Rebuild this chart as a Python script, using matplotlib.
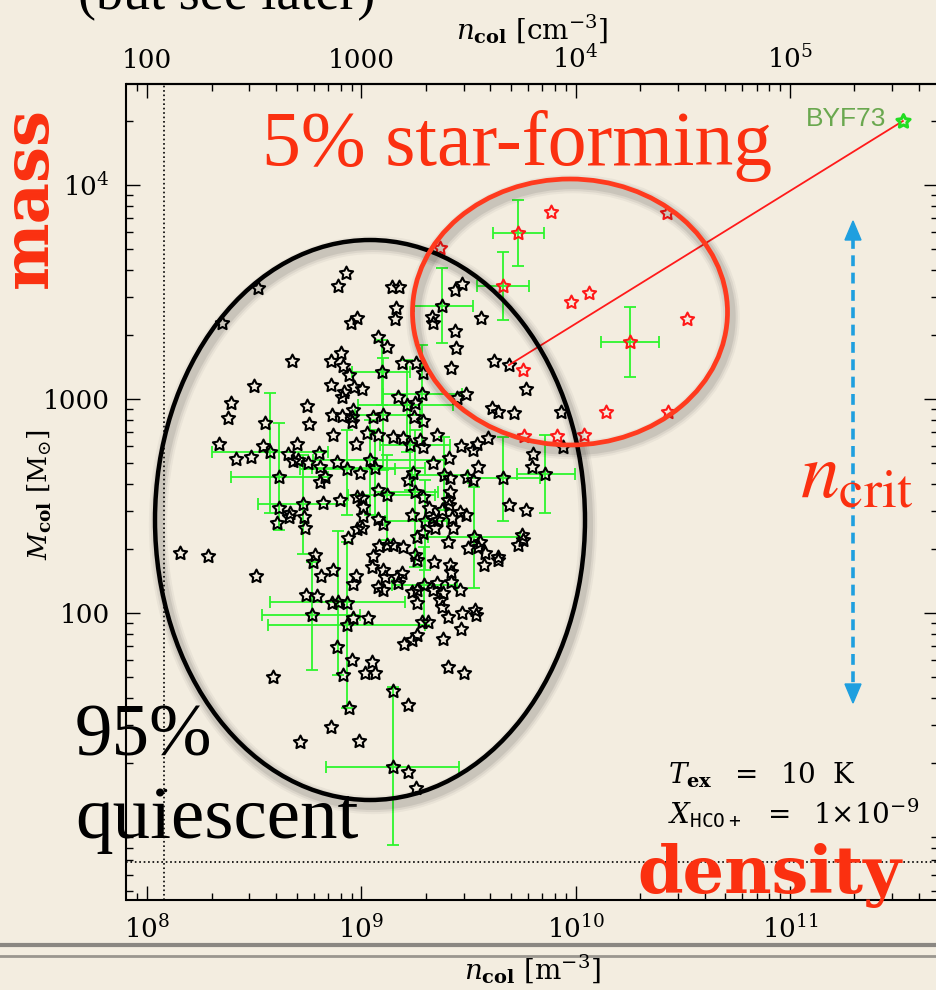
import numpy as np
import matplotlib
matplotlib.use("Agg")
import matplotlib.pyplot as plt
from matplotlib.patches import Ellipse, Polygon
from matplotlib.lines import Line2D
from matplotlib.path import Path
from matplotlib.ticker import NullFormatter

# quiescent clumps (black stars): log10 n_col [m^-3], log10 M_col [Msun]
log_n_q = [8.927, 8.893, 8.519, 9.143, 8.351, 8.978, 8.952, 9.076, 9.121, 8.675,
           8.904, 8.857, 8.916, 8.941, 9.095, 8.499, 8.860, 8.966, 9.005, 8.921,
           8.908, 8.392, 8.748, 8.963, 8.379, 8.862, 8.911, 8.958, 9.053, 9.103,
           8.549, 8.756, 8.955, 9.177, 9.437, 9.468, 9.375, 9.162, 9.328, 9.336,
           9.157, 9.557, 9.437, 9.442, 9.619, 9.689, 9.418, 9.188, 9.255, 9.286,
           9.767, 9.487, 9.445, 9.282, 9.173, 9.212, 9.250, 9.608, 9.639, 9.714,
           9.930, 9.246, 9.286, 8.336, 8.543, 8.574, 8.698, 8.414, 8.484, 8.659,
           8.683, 8.706, 8.753, 8.804, 8.869, 8.974, 9.025, 9.079, 8.807, 8.807,
           8.831, 8.885, 8.932, 8.994, 9.041, 9.064, 8.617, 8.978, 9.002, 9.009,
           9.009, 9.076, 9.118, 8.823, 8.901, 8.729, 8.617, 8.667, 8.661, 8.734,
           8.737, 8.608, 9.079, 9.103, 8.978, 9.005, 8.939, 9.084, 9.118, 8.286,
           8.784, 9.056, 8.776, 8.869, 8.812, 8.974, 8.963, 9.048, 9.103, 9.111,
           8.507, 9.079, 9.103, 8.742, 8.792, 8.865, 8.893, 8.932, 8.768, 8.963,
           9.033, 9.149, 9.196, 9.227, 9.274, 9.289, 9.355, 9.465, 9.523, 9.541,
           9.590, 9.336, 9.411, 9.546, 9.802, 9.795, 9.942, 9.662, 9.857, 9.523,
           9.492, 9.387, 9.414, 9.243, 9.219, 9.414, 9.406, 9.411, 9.289, 9.317,
           9.250, 9.460, 9.488, 9.378, 9.690, 9.767, 9.336, 9.359, 9.235, 9.297,
           9.422, 9.429, 9.344, 9.258, 9.289, 9.406, 9.526, 9.554, 9.546, 9.499,
           9.577, 9.748, 9.753, 9.732, 9.639, 9.639, 9.196, 9.149, 9.250, 9.258,
           9.341, 9.414, 9.417, 9.574, 9.188, 9.165, 9.173, 9.294, 9.352, 9.336,
           9.418, 9.460, 9.235, 9.258, 9.383, 9.367, 9.375, 9.258, 9.471, 9.530,
           9.535, 9.406, 8.932, 8.885, 8.955, 9.048, 9.017, 9.064, 8.916, 8.587,
           8.944, 8.859, 8.714, 8.989, 9.146, 9.282, 9.313, 9.465, 9.199, 9.235,
           9.258, 9.383, 9.403, 9.479, 9.149, 9.219, 9.219, 9.255, 8.154]
log_m_q = [3.587, 3.528, 3.520, 3.523, 3.354, 3.380, 3.354, 3.291, 3.244, 3.179,
           3.214, 3.179, 3.156, 3.114, 3.125, 3.062, 3.067, 3.058, 3.047, 3.034,
           3.011, 2.980, 2.969, 2.949, 2.910, 2.925, 2.922, 2.917, 2.917, 2.925,
           2.889, 2.883, 2.894, 3.525, 3.509, 3.536, 3.436, 3.424, 3.382, 3.354,
           3.374, 3.377, 3.319, 3.237, 3.179, 3.159, 3.146, 3.167, 3.170, 3.120,
           3.047, 3.023, 3.006, 3.023, 3.011, 2.972, 2.980, 2.957, 2.941, 2.933,
           2.941, 2.917, 2.897, 2.790, 2.782, 2.751, 2.788, 2.720, 2.728, 2.743,
           2.712, 2.715, 2.700, 2.749, 2.832, 2.790, 2.840, 2.832, 2.684, 2.611,
           2.637, 2.704, 2.673, 2.653, 2.715, 2.676, 2.637, 2.543, 2.536, 2.497,
           2.455, 2.575, 2.551, 2.515, 2.528, 2.509, 2.489, 2.469, 2.447, 2.447,
           2.396, 2.419, 2.438, 2.416, 2.391, 2.396, 2.352, 2.314, 2.318, 2.266,
           2.271, 2.266, 2.240, 2.201, 2.174, 2.174, 2.136, 2.216, 2.201, 2.170,
           2.174, 2.123, 2.107, 2.084, 2.081, 2.045, 2.050, 2.045, 1.991, 1.975,
           1.975, 2.824, 2.816, 2.785, 2.808, 2.777, 2.832, 2.782, 2.762, 2.788,
           2.816, 2.700, 2.723, 2.684, 2.743, 2.684, 2.777, 2.632, 2.648, 2.622,
           2.637, 2.645, 2.629, 2.653, 2.622, 2.567, 2.528, 2.505, 2.543, 2.489,
           2.567, 2.473, 2.458, 2.481, 2.505, 2.481, 2.443, 2.435, 2.458, 2.431,
           2.443, 2.396, 2.396, 2.357, 2.372, 2.330, 2.354, 2.333, 2.307, 2.305,
           2.279, 2.364, 2.341, 2.318, 2.262, 2.248, 2.307, 2.318, 2.271, 2.248,
           2.240, 2.224, 2.193, 2.224, 2.186, 2.170, 2.139, 2.131, 2.139, 2.107,
           2.146, 2.107, 2.100, 2.107, 2.092, 2.061, 2.029, 2.045, 1.999, 2.014,
           1.991, 1.983, 1.944, 1.843, 1.780, 1.772, 1.718, 1.718, 1.710, 1.702,
           1.557, 1.466, 1.399, 1.402, 1.280, 1.959, 1.959, 1.925, 1.855, 1.874,
           1.897, 1.877, 1.749, 1.718, 1.637, 1.570, 1.258, 1.181, 2.280]

# star-forming clumps (red stars)
log_n_sf = [9.369, 9.884, 10.425, 9.732, 9.662, 9.977, 10.062, 10.518,
            10.254, 9.756, 10.140, 10.430, 9.760, 9.914, 10.040]
log_m_sf = [3.704, 3.875, 3.868, 3.777, 3.528, 3.455, 3.497, 3.372,
            3.268, 3.136, 2.941, 2.938, 2.827, 2.827, 2.832]

# BYF73 (green star) and the clump it is linked to
byf73_logn, byf73_logm = 11.527, 4.299
link_logn, link_logm = 9.689, 3.159

# isolated faint point near the lower-left corner
dot_logn, dot_logm = 8.084, 1.173

# green error bars: centre, lower and upper limits (log10)
eb_logn = [9.732, 9.662, 9.375, 10.254, 9.662, 9.857, 9.526, 9.294, 8.617,
           8.574, 8.729, 8.768, 8.893, 8.932, 9.146, 9.095, 9.282, 9.212,
           9.041, 9.064, 9.387, 9.118, 9.250, 9.297, 8.932, 9.103, 9.227]
eb_logn_lo = [9.613, 9.541, 9.246, 10.118, 9.498, 9.725, 9.313, 9.142, 8.391,
              8.302, 8.519, 8.535, 8.574, 8.565, 8.834, 8.957, 9.101, 8.985,
              8.775, 8.768, 9.235, 8.938, 9.064, 9.111, 8.714, 8.971, 9.087]
eb_logn_hi = [9.854, 9.782, 9.520, 10.390, 9.834, 9.997, 9.740, 9.445, 8.846,
              8.846, 8.932, 8.994, 9.204, 9.297, 9.457, 9.227, 9.468, 9.429,
              9.390, 9.297, 9.499, 9.344, 9.358, 9.398, 9.157, 9.274, 9.414]
eb_logm = [3.777, 3.528, 3.436, 3.268, 2.632, 2.648, 2.354, 2.131, 2.637,
           2.751, 2.509, 1.991, 2.050, 1.944, 1.280, 3.125, 3.023, 2.972,
           2.715, 2.676, 2.645, 2.551, 2.567, 2.431, 2.673, 2.925, 2.785]
eb_logm_lo = [3.621, 3.369, 3.260, 3.104, 2.430, 2.469, 2.115, 1.944, 2.388,
              2.469, 2.276, 1.734, 1.710, 1.556, 0.916, 2.972, 2.785, 2.752,
              2.458, 2.458, 2.481, 2.341, 2.215, 2.201, 2.458, 2.668, 2.575]
eb_logm_hi = [3.930, 3.688, 3.611, 3.431, 2.822, 2.832, 2.590, 2.310, 2.889,
              3.029, 2.738, 2.240, 2.383, 2.332, 1.654, 3.276, 3.252, 3.182,
              2.902, 2.855, 2.824, 2.738, 2.855, 2.622, 2.855, 3.192, 2.972]

# detection limits (dotted lines)
n_floor = 1.2e8
m_floor = 6.9

x_ticks = [1e8, 1e9, 1e10, 1e11]
x_labels = [r'$10^{8}$', r'$10^{9}$', r'$10^{10}$', r'$10^{11}$']
top_ticks = [100, 1000, 1e4, 1e5]
top_labels = ['100', '1000', r'$10^4$', r'$10^5$']
y_ticks = [100, 1000, 1e4]
y_labels = ['100', '1000', r'$10^4$']

plt.rcParams['font.family'] = 'DejaVu Serif'
plt.rcParams['mathtext.fontset'] = 'dejavuserif'

W, H = 936, 990
BG = '#f3ede0'
RED = '#fb3010'
fig = plt.figure(figsize=(W / 100, H / 100), dpi=100)
fig.patch.set_facecolor(BG)


def fx(px):
    return px / W


def fy(py):
    return 1 - py / H


ax = fig.add_axes([fx(126.5), fy(900), (938 - 126.5) / W, (900 - 84) / H])
ax.set_facecolor('none')
ax.set_xscale('log')
ax.set_yscale('log')
ax.set_xlim(10 ** 7.904, 10 ** 11.691)
ax.set_ylim(10 ** 0.659, 10 ** 4.472)

for s in ax.spines.values():
    s.set_linewidth(1.5)

ax.set_xticks(x_ticks, labels=x_labels)
ax.set_yticks(y_ticks, labels=y_labels)
ax.xaxis.set_minor_formatter(NullFormatter())
ax.yaxis.set_minor_formatter(NullFormatter())
ax.tick_params(which='both', direction='in', top=False, right=True, width=1.0, labelsize=19)
ax.tick_params(which='major', length=10)
ax.tick_params(which='minor', length=5)
ax.tick_params(axis='x', pad=11)
ax.tick_params(axis='y', pad=12)

sec = ax.secondary_xaxis('top', functions=(lambda x: x / 1e6, lambda x: x * 1e6))
sec.set_xticks(top_ticks, labels=top_labels)
sec.xaxis.set_minor_formatter(NullFormatter())
sec.tick_params(which='both', direction='in', width=1.0, labelsize=19, pad=8)
sec.tick_params(which='major', length=10)
sec.tick_params(which='minor', length=5)
sec.spines['top'].set_linewidth(1.5)

# limits
ax.axvline(n_floor, color='k', ls=':', lw=1.2)
ax.axhline(m_floor, color='k', ls=':', lw=1.2)

# error bars
x = 10 ** np.array(eb_logn)
y = 10 ** np.array(eb_logm)
xerr = [x - 10 ** np.array(eb_logn_lo), 10 ** np.array(eb_logn_hi) - x]
yerr = [y - 10 ** np.array(eb_logm_lo), 10 ** np.array(eb_logm_hi) - y]
ax.errorbar(x, y, xerr=xerr, yerr=yerr, fmt='none', ecolor='#2df52d',
            elinewidth=1.3, capsize=4.5, capthick=1.3, zorder=2)

star = Path.unit_regular_star(5, innerCircle=0.5)
ax.plot(10 ** np.array(log_n_q), 10 ** np.array(log_m_q), ls='none', marker=star,
        ms=10, mfc='none', mec='k', mew=1.5, zorder=3)
ax.plot(10 ** np.array(log_n_sf), 10 ** np.array(log_m_sf), ls='none', marker=star,
        ms=10, mfc='none', mec='#ff1a1a', mew=1.5, zorder=3)
ax.plot([10 ** link_logn, 10 ** byf73_logn], [10 ** link_logm, 10 ** byf73_logm],
        color='#ff1a1a', lw=1.3, zorder=3)
ax.plot([10 ** byf73_logn], [10 ** byf73_logm], ls='none', marker=star,
        ms=10, mfc='none', mec='#22dd22', mew=2.2, zorder=4)
ax.plot([10 ** dot_logn], [10 ** dot_logm], 'k.', ms=3)


# ellipses with soft shadow
def ellipse(cx, cy, w, h, color, lw):
    for grow, a in [(10, 0.04), (7, 0.06), (4, 0.08)]:
        fig.add_artist(Ellipse((fx(cx + 3), fy(cy + 5)), w / W, h / H, fill=False,
                               ec='k', lw=lw + grow, alpha=a, transform=fig.transFigure))
    fig.add_artist(Ellipse((fx(cx), fy(cy)), w / W, h / H, fill=False, ec=color,
                           lw=lw, transform=fig.transFigure))


ellipse(370, 520, 430, 560, 'k', 3.2)
ellipse(570, 312, 315, 266, '#ff3a1e', 3.4)

# blue double arrow (n_crit range)
BLUE = '#1e9fdf'
fig.add_artist(Line2D([fx(853), fx(853)], [fy(238), fy(686)], color=BLUE, lw=2.6,
                      dashes=(3, 1.8), transform=fig.transFigure))
fig.add_artist(Polygon([[fx(853), fy(221)], [fx(845), fy(240)], [fx(861), fy(240)]],
                       closed=True, color=BLUE, transform=fig.transFigure))
fig.add_artist(Polygon([[fx(853), fy(703)], [fx(845), fy(684)], [fx(861), fy(684)]],
                       closed=True, color=BLUE, transform=fig.transFigure))

# axis titles
fig.text(fx(532), fy(40), r'$n_{\mathbf{col}}\ [\mathrm{cm}^{-3}]$', fontsize=20,
         ha='center', va='baseline')
fig.text(fx(532), fy(980), r'$n_{\mathbf{col}}\ [\mathrm{m}^{-3}]$', fontsize=20,
         ha='center', va='baseline')
fig.text(fx(40), fy(495), r'$M_{\mathbf{col}}\ [\mathrm{M}_{\odot}]$', fontsize=19,
         ha='center', va='center', rotation=90)

# slide annotations
fig.text(fx(78), fy(9), '(but see later)', fontsize=39, family='Liberation Serif',
         va='baseline')
fig.text(fx(262), fy(165), '5% star-forming', fontsize=56, family='Liberation Serif',
         color=RED, va='baseline')
fig.text(fx(75), fy(755), '95%', fontsize=54, family='Liberation Serif', va='baseline')
fig.text(fx(75), fy(838), 'quiescent', fontsize=54, family='Liberation Serif',
         va='baseline')
fig.text(fx(29), fy(197), 'mass', fontsize=46, family='DejaVu Serif', weight='bold',
         color=RED, rotation=90, ha='center', va='center')
fig.text(fx(637), fy(893), 'density', fontsize=47, family='DejaVu Serif', weight='bold',
         color=RED, va='baseline')
fig.text(fx(800), fy(497), r'$n_{\mathrm{crit}}$', fontsize=56, color=RED,
         math_fontfamily='stix', va='baseline')
fig.text(fx(806), fy(126), 'BYF73', fontsize=19, family='Liberation Sans',
         color='#6aa84f', va='baseline')
fig.text(fx(668), fy(784), r'$T_{\mathbf{ex}}\ \ =\ \ 10\ \ \mathrm{K}$', fontsize=20,
         va='baseline')
fig.text(fx(668), fy(824), r'$X_{\mathtt{HCO+}}\ \ =\ \ 1{\times}10^{-9}$', fontsize=20,
         va='baseline')

# grey rule near the bottom of the slide
fig.add_artist(Line2D([0, 1], [fy(945), fy(945)], color='#8a8782', lw=3,
                      transform=fig.transFigure))
fig.add_artist(Line2D([0, 1], [fy(956), fy(956)], color='#9a968f', lw=2,
                      transform=fig.transFigure))

fig.savefig('out.png', dpi=100, facecolor=BG)
